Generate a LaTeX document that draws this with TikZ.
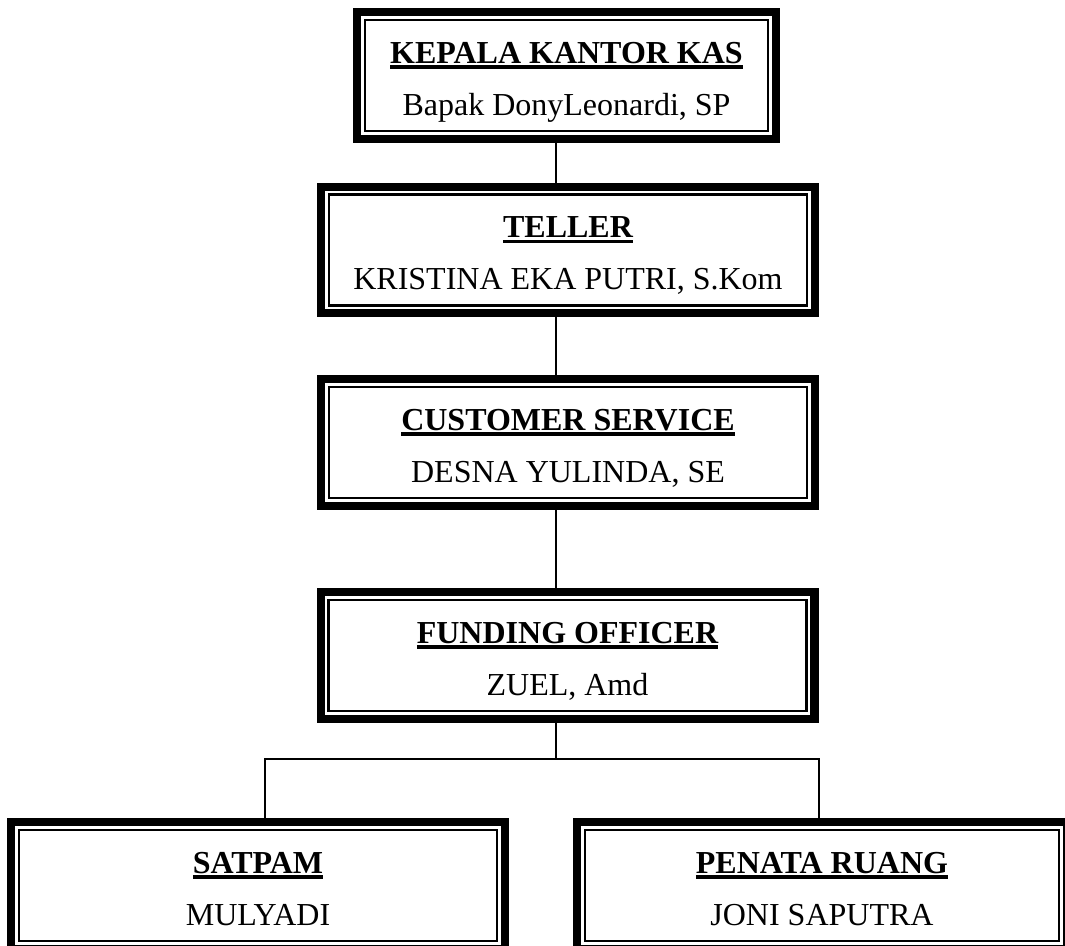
\documentclass[tikz,border=0pt]{standalone}
\usepackage{fontspec}
\setmainfont{Liberation Serif}
\usepackage{tikz}

\newcommand{\garisbawah}[1]{\setbox0=\hbox{#1}\rlap{\rule[-4.3pt]{\wd0}{2.6pt}}\box0}

\begin{document}
\begin{tikzpicture}[x=0.75pt, y=-0.75pt,
    every node/.style={font=\fontsize{24}{28}\selectfont},
    kotak/.style={rectangle, draw, line width=1.8pt, outer sep=9.1pt, minimum width=358.3pt, minimum height=83pt},
    jabatan/.style={anchor=base, yshift=-41.25pt, font=\fontsize{24}{28}\selectfont\bfseries},
    nama/.style={anchor=base, yshift=-80.25pt},
    garis/.style={line width=1.5pt},
    cabang/.style={line width=1.2pt}]
    \useasboundingbox (0,0) rectangle (1065,946);
    \clip (0,0) rectangle (1065,946);

    \node[kotak, minimum width=302pt] (kepala) at (566.5,75.5) {};
    \node[kotak] (teller) at (568,250) {};
    \node[kotak] (cs) at (568,442.5) {};
    \node[kotak] (funding) at (567.5,655.5) {};
    \node[kotak] (satpam) at (258,885.5) {};
    \node[kotak, minimum width=355.3pt] (penata) at (822,885.5) {};

    \foreach \k in {kepala,teller,cs,funding,satpam,penata}
        \draw[line width=6.2pt] ([shift={(3.1pt,3.1pt)}]\k.south west) rectangle ([shift={(-3.1pt,-3.1pt)}]\k.north east);

    \node[jabatan] (kepala-j) at (kepala.north) {\garisbawah{KEPALA KANTOR KAS}};
    \node[nama] (kepala-n) at (kepala.north) {Bapak DonyLeonardi, SP};
    \node[jabatan] (teller-j) at (teller.north) {\garisbawah{TELLER}};
    \node[nama] (teller-n) at (teller.north) {KRISTINA EKA PUTRI, S.Kom};
    \node[jabatan] (cs-j) at (cs.north) {\garisbawah{CUSTOMER SERVICE}};
    \node[nama] (cs-n) at (cs.north) {DESNA YULINDA, SE};
    \node[jabatan] (funding-j) at (funding.north) {\garisbawah{FUNDING OFFICER}};
    \node[nama] (funding-n) at (funding.north) {ZUEL, Amd};
    \node[jabatan] (satpam-j) at (satpam.north) {\garisbawah{SATPAM}};
    \node[nama] (satpam-n) at (satpam.north) {MULYADI};
    \node[jabatan] (penata-j) at (penata.north) {\garisbawah{PENATA RUANG}};
    \node[nama] (penata-n) at (penata.north) {JONI SAPUTRA};

    \coordinate (batang) at (556,0);
    \coordinate (simpang) at (556,759);
    \coordinate (simpangkiri) at (265,759);
    \coordinate (simpangkanan) at (819,759);

    \draw[garis] (kepala.south -| batang) -- (teller.north -| batang);
    \draw[garis] (teller.south -| batang) -- (cs.north -| batang);
    \draw[garis] (cs.south -| batang) -- (funding.north -| batang);
    \draw[garis] (funding.south -| batang) -- (simpang);
    \draw[cabang] (satpam.north -| simpangkiri) -- (simpangkiri) -- (simpangkanan) -- (penata.north -| simpangkanan);
\end{tikzpicture}
\end{document}
